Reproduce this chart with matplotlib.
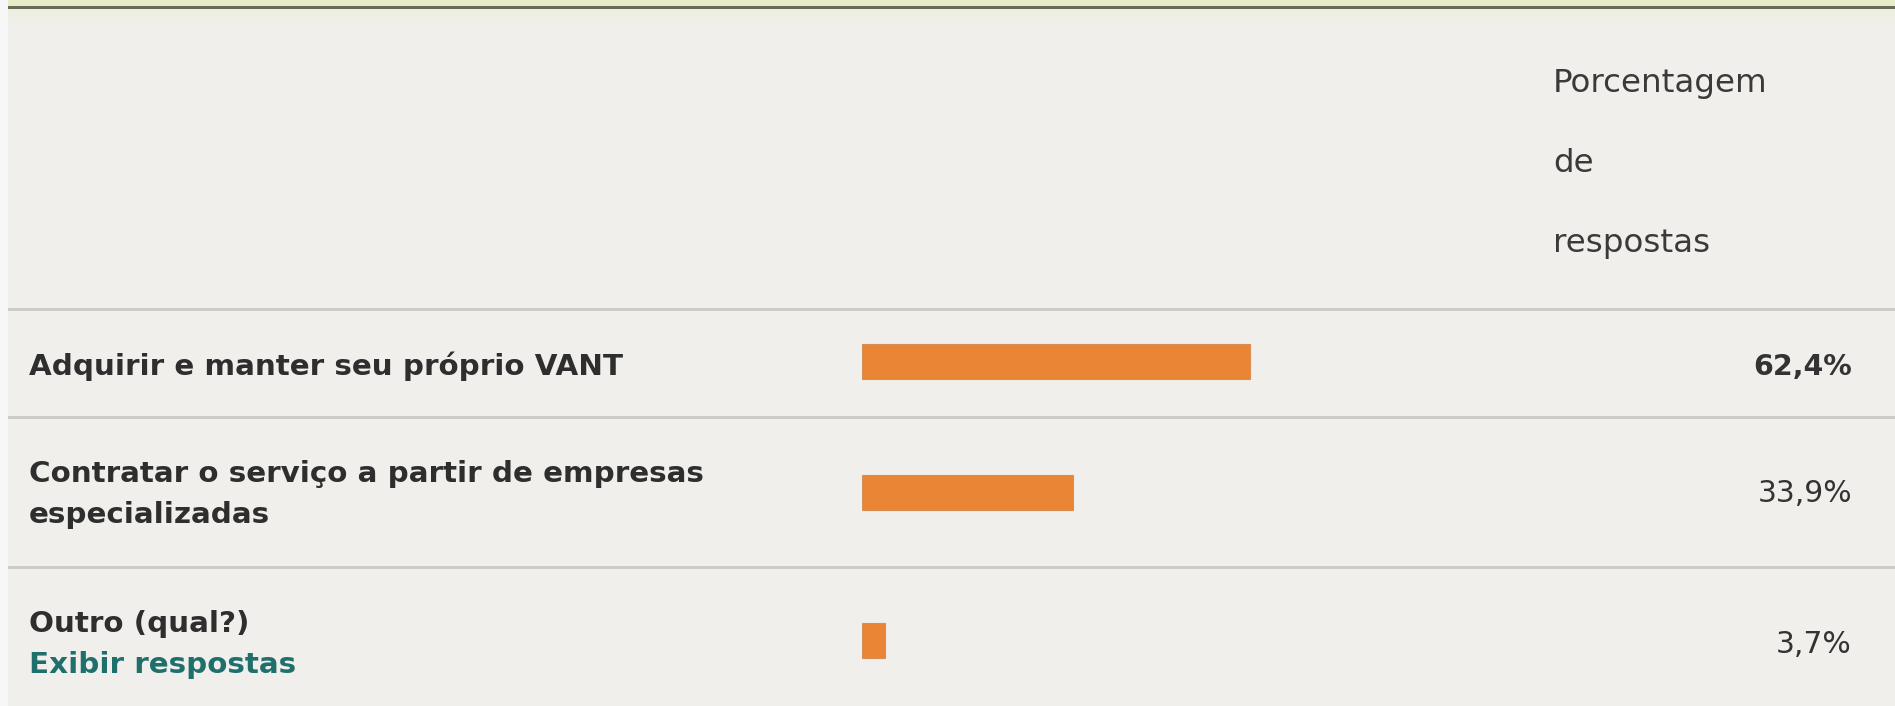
import matplotlib
matplotlib.use("Agg")
import matplotlib.pyplot as plt
import numpy as np
from matplotlib.patches import Rectangle

# ---- data ----
categories = [
    "Adquirir e manter seu próprio VANT",
    "Contratar o serviço a partir de empresas\nespecializadas",
    "Outro (qual?)",
]
values = [62.4, 33.9, 3.7]
value_labels = ["62,4%", "33,9%", "3,7%"]
header_lines = ["Porcentagem", "de", "respostas"]
link_text = "Exibir respostas"

W, H = 1895, 706
BG = "#f0efec"
BAR = "#ea8535"
TXT = "#2e2e2e"

fig = plt.figure(figsize=(W / 100, H / 100), dpi=100)
fig.patch.set_facecolor(BG)

# layout axes in pixel units
ax0 = fig.add_axes([0, 0, 1, 1])
ax0.set_xlim(0, W)
ax0.set_ylim(H, 0)
ax0.axis("off")

# left strip
ax0.add_patch(Rectangle((0, 0), 8, H, color="#f7f7f7", lw=0))
# top band and dark rule
ax0.add_patch(Rectangle((8, 0), W - 8, 6, color="#e7ebc6", lw=0))
ax0.add_patch(Rectangle((8, 6), W - 8, 3, color="#676b5a", lw=0))
# soft gradient under the rule
grad = np.linspace(0, 1, 50).reshape(-1, 1)
c0 = np.array([0.93, 0.94, 0.87])
c1 = np.array([0.941, 0.937, 0.925])
img = c0[None, None, :] * (1 - grad[:, :, None]) + c1[None, None, :] * grad[:, :, None]
ax0.imshow(img, extent=(8, W, 26, 9), aspect="auto", zorder=1)
ax0.set_xlim(0, W)
ax0.set_ylim(H, 0)

# row boundaries (pixels)
row_edges = [309, 417, 567, H]
for y in row_edges[:-1]:
    ax0.add_patch(Rectangle((8, y - 1), W - 8, 3, color="#cbcbc8", lw=0, zorder=2))

# header
for i, line in enumerate(header_lines):
    ax0.text(1553, 92 + 80 * i, line, fontsize=23.4, color="#3a3a3a",
             family="DejaVu Sans", va="baseline", ha="left")

# category labels
label_fs = 21.2
ax0.text(29, 375, categories[0], fontsize=label_fs, fontweight="bold", color=TXT,
         family="DejaVu Sans", va="baseline", ha="left")
l1, l2 = categories[1].split("\n")
ax0.text(29, 482, l1, fontsize=label_fs, fontweight="bold", color=TXT,
         family="DejaVu Sans", va="baseline", ha="left")
ax0.text(29, 523, l2, fontsize=label_fs, fontweight="bold", color=TXT,
         family="DejaVu Sans", va="baseline", ha="left")
ax0.text(29, 632, categories[2], fontsize=label_fs, fontweight="bold", color=TXT,
         family="DejaVu Sans", va="baseline", ha="left")
ax0.text(29, 673, link_text, fontsize=label_fs, fontweight="bold", color="#1f6f6b",
         family="DejaVu Sans", va="baseline", ha="left")

# value labels
val_base = [375, 502, 653]
for i, (lab, yb) in enumerate(zip(value_labels, val_base)):
    ax0.text(1852, yb, lab, fontsize=21.5 if i else 20.5,
             fontweight="bold" if i == 0 else "normal",
             color="#333333", family="DejaVu Sans", va="baseline", ha="right")

# bars axes: 0..100 % spans 862..1484 px
ax = fig.add_axes([862 / W, 0, 622 / W, 1])
ax.set_xlim(0, 100)
ax.set_ylim(H, 0)
ax.axis("off")
ax.patch.set_alpha(0)
bar_centers = [361.5, 492, 640]
ax.barh(bar_centers, values, height=35, color=BAR, edgecolor="#d88d55",
        linewidth=0.8, left=0)

fig.savefig("out.png", dpi=100, facecolor=BG)
